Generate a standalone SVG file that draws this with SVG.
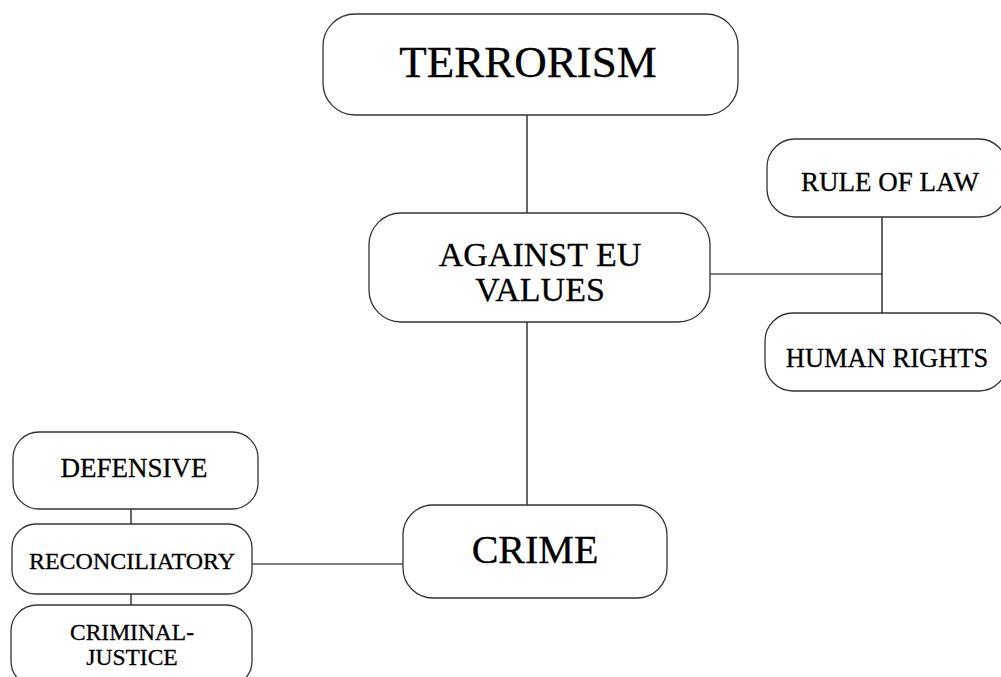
<svg xmlns="http://www.w3.org/2000/svg" width="1001" height="677" viewBox="0 0 1001 677">
<style>
.box{fill:#fff;stroke:#333;stroke-width:1.3}
.t{font-family:'Liberation Serif',Tinos,'Times New Roman',Times,'DejaVu Serif',serif;fill:#000;stroke:#000;stroke-width:0.3;text-anchor:middle}
.c{stroke:#000;stroke-width:1.2;fill:none}
</style>
<rect width="1001" height="677" fill="#fff"/>
<g id="connectors">
<line class="c" x1="527" y1="115" x2="527" y2="213"/>
<line class="c" x1="527" y1="322" x2="527" y2="505"/>
<line class="c" x1="710" y1="274" x2="882" y2="274"/>
<line class="c" x1="882" y1="217" x2="882" y2="313"/>
<line class="c" x1="252" y1="564" x2="403" y2="564"/>
<line class="c" x1="131" y1="509" x2="131" y2="524"/>
<line class="c" x1="131" y1="594" x2="131" y2="605"/>
</g>
<g id="terrorism">
<rect class="box" x="323" y="14" width="415" height="101" rx="32"/>
<text class="t" x="528" y="77" font-size="45">TERRORISM</text>
</g>
<g id="against-eu-values">
<rect class="box" x="369" y="213" width="341" height="109" rx="32"/>
<text class="t" x="540" y="266" font-size="34">AGAINST EU</text>
<text class="t" x="540" y="301" font-size="34">VALUES</text>
</g>
<g id="rule-of-law">
<rect class="box" x="767" y="139" width="240" height="78" rx="28"/>
<text class="t" x="890" y="191" font-size="27">RULE OF LAW</text>
</g>
<g id="human-rights">
<rect class="box" x="765" y="313" width="242" height="78" rx="28"/>
<text class="t" x="887" y="367" font-size="26.5">HUMAN RIGHTS</text>
</g>
<g id="crime">
<rect class="box" x="403" y="505" width="264" height="93" rx="30"/>
<text class="t" x="535" y="563" font-size="40">CRIME</text>
</g>
<g id="defensive">
<rect class="box" x="13" y="432" width="245" height="77" rx="26"/>
<text class="t" x="134" y="477" font-size="27">DEFENSIVE</text>
</g>
<g id="reconciliatory">
<rect class="box" x="12" y="524" width="240" height="70" rx="24"/>
<text class="t" x="132" y="569" font-size="24">RECONCILIATORY</text>
</g>
<g id="criminal-justice">
<rect class="box" x="11" y="605" width="241" height="82" rx="26"/>
<text class="t" x="132" y="640" font-size="23.5">CRIMINAL-</text>
<text class="t" x="132" y="665" font-size="23.5">JUSTICE</text>
</g>
</svg>
